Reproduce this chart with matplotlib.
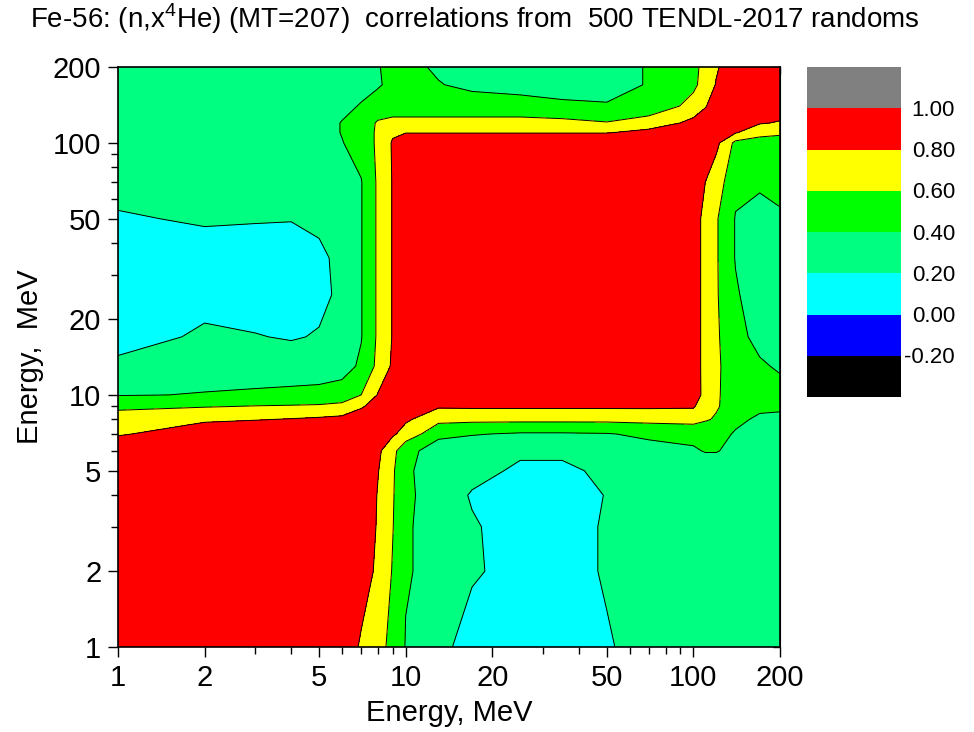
import numpy as np
import matplotlib
matplotlib.use("Agg")
import matplotlib.pyplot as plt

plt.rcParams['font.family'] = ['Liberation Sans', 'DejaVu Sans']
plt.rcParams['mathtext.fontset'] = 'custom'
plt.rcParams['mathtext.rm'] = 'Liberation Sans'

# ----- data: correlation matrix -----
# grid energies (MeV), same for both axes
energy = [1, 2, 3, 4, 5, 6, 7, 8, 9, 10, 13, 17, 25, 35, 50, 70, 100, 110, 120, 140, 170, 200]

# rows = incident energy on y axis (same order as energy), columns = x axis
corr = np.array([
    # x: 1    2     3     4     5     6     7     8      9      10    13    17    25    35    50    70    100   110   120   140   170   200
    [0.95, 0.95, 0.95, 0.95, 0.95, 0.95, 0.77, 0.665, 0.544, 0.39, 0.25, 0.12, 0.08, 0.08, 0.18, 0.30, 0.30, 0.30, 0.30, 0.30, 0.30, 0.30],  # 1
    [0.95, 0.95, 0.95, 0.95, 0.95, 0.95, 0.95, 0.74, 0.59, 0.42, 0.32, 0.23, 0.10, 0.10, 0.23, 0.30, 0.30, 0.30, 0.30, 0.30, 0.30, 0.30],  # 2
    [0.95, 0.95, 0.95, 0.95, 0.95, 0.95, 0.95, 0.78, 0.61, 0.42, 0.32, 0.22, 0.10, 0.10, 0.23, 0.30, 0.30, 0.30, 0.30, 0.30, 0.30, 0.30],  # 3
    [0.95, 0.95, 0.95, 0.95, 0.95, 0.95, 0.95, 0.79, 0.62, 0.43, 0.32, 0.18, 0.08, 0.10, 0.21, 0.30, 0.30, 0.30, 0.30, 0.30, 0.30, 0.30],  # 4
    [0.95, 0.95, 0.95, 0.95, 0.95, 0.95, 0.95, 0.81, 0.63, 0.42, 0.33, 0.28, 0.15, 0.15, 0.26, 0.30, 0.30, 0.30, 0.30, 0.30, 0.30, 0.30],  # 5
    [0.95, 0.95, 0.95, 0.95, 0.95, 0.95, 0.95, 0.84, 0.66, 0.46, 0.30, 0.30, 0.25, 0.25, 0.30, 0.33, 0.38, 0.41, 0.41, 0.35, 0.30, 0.30],  # 6
    [0.78, 0.95, 0.95, 0.95, 0.95, 0.95, 0.95, 0.90, 0.83, 0.72, 0.45, 0.41, 0.38, 0.38, 0.39, 0.44, 0.45, 0.47, 0.47, 0.38, 0.30, 0.30],  # 7
    [0.69, 0.76, 0.79, 0.81, 0.83, 0.85, 0.90, 0.95, 0.90, 0.83, 0.66, 0.65, 0.65, 0.65, 0.65, 0.66, 0.68, 0.62, 0.58, 0.45, 0.36, 0.36],  # 8
    [0.56, 0.59, 0.61, 0.62, 0.63, 0.66, 0.78, 0.88, 0.95, 0.95, 0.82, 0.83, 0.83, 0.83, 0.83, 0.83, 0.82, 0.68, 0.62, 0.50, 0.45, 0.43],  # 9
    [0.39, 0.41, 0.42, 0.43, 0.44, 0.47, 0.60, 0.81, 0.88, 0.95, 0.95, 0.95, 0.95, 0.95, 0.95, 0.95, 0.93, 0.72, 0.62, 0.52, 0.47, 0.45],  # 10
    [0.24, 0.30, 0.32, 0.32, 0.32, 0.33, 0.43, 0.65, 0.83, 0.95, 0.95, 0.95, 0.95, 0.95, 0.95, 0.95, 0.95, 0.70, 0.63, 0.50, 0.42, 0.38],  # 13
    [0.12, 0.24, 0.21, 0.18, 0.22, 0.28, 0.39, 0.63, 0.81, 0.95, 0.95, 0.95, 0.95, 0.95, 0.95, 0.95, 0.95, 0.70, 0.63, 0.45, 0.35, 0.30],  # 17
    [0.05, 0.10, 0.08, 0.10, 0.12, 0.27, 0.39, 0.63, 0.81, 0.95, 0.95, 0.95, 0.95, 0.95, 0.95, 0.95, 0.95, 0.70, 0.62, 0.42, 0.30, 0.28],  # 25
    [0.05, 0.10, 0.08, 0.10, 0.15, 0.27, 0.39, 0.63, 0.81, 0.95, 0.95, 0.95, 0.95, 0.95, 0.95, 0.95, 0.95, 0.70, 0.62, 0.39, 0.30, 0.30],  # 35
    [0.18, 0.23, 0.22, 0.21, 0.26, 0.30, 0.39, 0.63, 0.81, 0.95, 0.95, 0.95, 0.95, 0.95, 0.95, 0.95, 0.95, 0.70, 0.62, 0.39, 0.36, 0.38],  # 50
    [0.28, 0.30, 0.30, 0.30, 0.30, 0.32, 0.39, 0.63, 0.81, 0.95, 0.95, 0.95, 0.95, 0.95, 0.95, 0.95, 0.95, 0.80, 0.70, 0.45, 0.42, 0.45],  # 70
    [0.30, 0.30, 0.30, 0.30, 0.30, 0.39, 0.50, 0.63, 0.82, 0.95, 0.95, 0.95, 0.95, 0.95, 0.95, 0.95, 0.95, 0.90, 0.85, 0.55, 0.55, 0.55],  # 100
    [0.30, 0.30, 0.30, 0.30, 0.30, 0.41, 0.50, 0.63, 0.77, 0.79, 0.79, 0.79, 0.79, 0.79, 0.79, 0.85, 0.95, 0.95, 0.95, 0.82, 0.64, 0.62],  # 110
    [0.30, 0.30, 0.30, 0.30, 0.30, 0.41, 0.50, 0.62, 0.65, 0.65, 0.65, 0.65, 0.65, 0.65, 0.61, 0.70, 0.85, 0.95, 0.95, 0.95, 0.82, 0.78],  # 120
    [0.30, 0.30, 0.30, 0.30, 0.30, 0.33, 0.42, 0.48, 0.50, 0.50, 0.50, 0.50, 0.50, 0.44, 0.42, 0.45, 0.68, 0.78, 0.95, 0.95, 0.95, 0.95],  # 140
    [0.30, 0.30, 0.30, 0.30, 0.30, 0.30, 0.30, 0.38, 0.45, 0.45, 0.41, 0.35, 0.30, 0.30, 0.30, 0.42, 0.55, 0.70, 0.81, 0.95, 0.95, 0.95],  # 170
    [0.30, 0.30, 0.30, 0.30, 0.30, 0.30, 0.30, 0.39, 0.45, 0.45, 0.37, 0.30, 0.30, 0.30, 0.30, 0.42, 0.55, 0.66, 0.78, 0.92, 0.95, 0.95],  # 200
])

levels = [-0.4, -0.2, 0.0, 0.2, 0.4, 0.6, 0.8, 1.0, 1.2]
band_colors = ['#000000', '#0000ff', '#00ffff', '#00ff80', '#00ff00', '#ffff00', '#ff0000', '#808080']
cbar_labels = ['-0.20', '0.00', '0.20', '0.40', '0.60', '0.80', '1.00']

major_ticks = [1, 2, 5, 10, 20, 50, 100, 200]
minor_ticks = [3, 4, 6, 7, 8, 9, 30, 40, 60, 70, 80, 90]

title = 'Fe-56: (n,x$^4$He) (MT=207)  correlations from  500 TENDL-2017 randoms'

# ----- figure -----
fig = plt.figure(figsize=(9.74, 7.32), dpi=100)
ax = fig.add_axes([118 / 974, 85 / 732, 662 / 974, 580 / 732])

X, Y = np.meshgrid(energy, energy)
ax.contourf(X, Y, corr, levels=levels, colors=band_colors)
ax.contour(X, Y, corr, levels=levels[2:-1], colors='black', linewidths=0.7)

ax.set_xscale('log')
ax.set_yscale('log')
ax.set_xlim(1, 200)
ax.set_ylim(1, 200)

for axis in (ax.xaxis, ax.yaxis):
    axis.set_ticks(major_ticks)
    axis.set_ticklabels([str(t) for t in major_ticks])
    axis.set_ticks(minor_ticks, minor=True)
    axis.set_minor_formatter(matplotlib.ticker.NullFormatter())
ax.tick_params(which='both', direction='out', labelsize=21, pad=5)
ax.tick_params(which='major', length=7, width=1)
ax.tick_params(which='minor', length=5, width=1)

# inward ticks on top and right
top = ax.secondary_xaxis('top')
right = ax.secondary_yaxis('right')
for sec_axis in (top.xaxis, right.yaxis):
    sec_axis.set_ticks(major_ticks)
    sec_axis.set_ticks(minor_ticks, minor=True)
    sec_axis.set_major_formatter(matplotlib.ticker.NullFormatter())
    sec_axis.set_minor_formatter(matplotlib.ticker.NullFormatter())
for sec in (top, right):
    sec.tick_params(which='both', direction='in', length=5, width=1)

for sp in ax.spines.values():
    sp.set_linewidth(1.2)

ax.set_xlabel('Energy, MeV', fontsize=21, labelpad=5)
ax.set_ylabel('Energy,  MeV', fontsize=21, labelpad=6)

fig.text(475 / 974, 1 - 28 / 732, title, ha='center', va='baseline', fontsize=20)

# ----- colour bar drawn as stacked bands -----
cax = fig.add_axes([807 / 974, (732 - 397) / 732, 94 / 974, 330 / 732])
for i in range(len(band_colors)):
    cax.axhspan(levels[i], levels[i + 1], color=band_colors[i], lw=0)
cax.set_ylim(levels[0], levels[-1])
cax.set_xlim(0, 1)
cax.axis('off')
for lev, lab in zip(levels[1:-1], cbar_labels):
    cax.text((955 - 807) / 94, lev - 0.01, lab, ha='right', va='center', fontsize=16)

fig.savefig('out.png', dpi=100)
